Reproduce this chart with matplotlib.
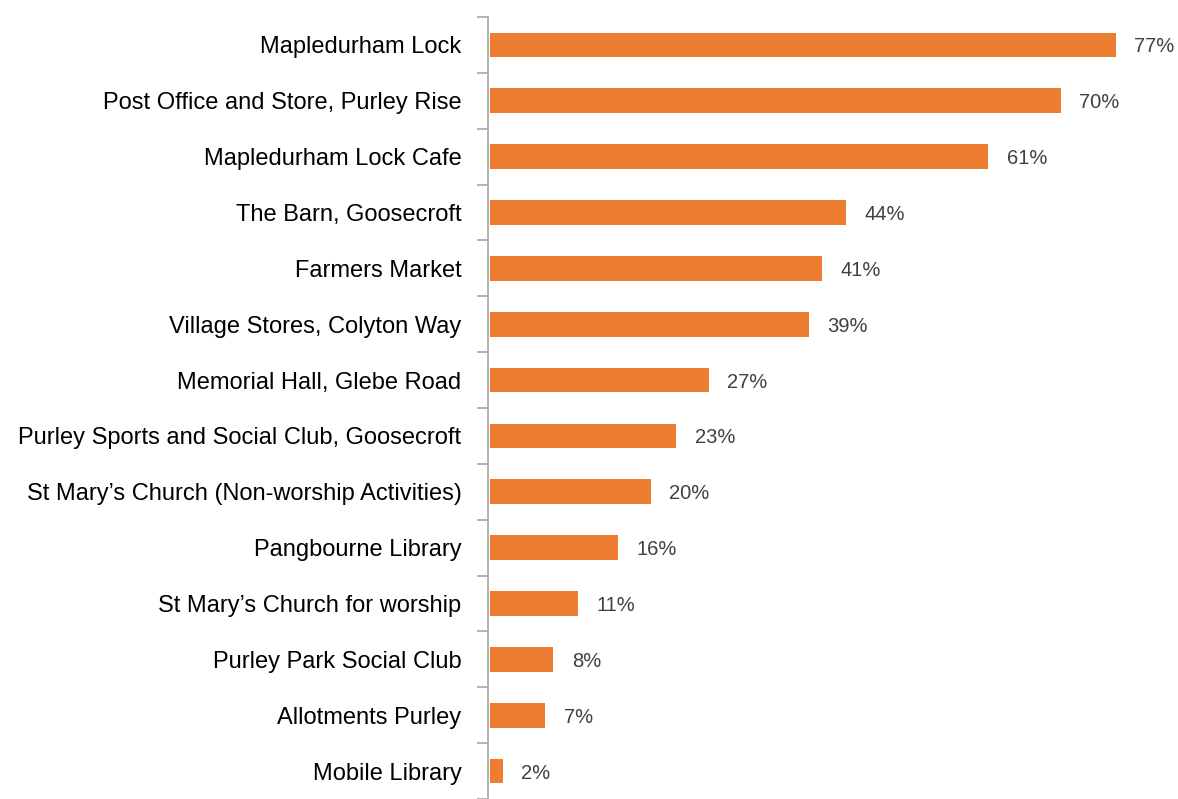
import numpy as np
import matplotlib.pyplot as plt

plt.rcParams['font.family'] = ['Liberation Sans', 'DejaVu Sans']

categories = ["Mapledurham Lock", "Post Office and Store, Purley Rise",
              "Mapledurham Lock Cafe", "The Barn, Goosecroft", "Farmers Market",
              "Village Stores, Colyton Way", "Memorial Hall, Glebe Road",
              "Purley Sports and Social Club, Goosecroft",
              "St Mary\u2019s Church (Non-worship Activities)", "Pangbourne Library",
              "St Mary\u2019s Church for worship", "Purley Park Social Club",
              "Allotments Purley", "Mobile Library"]
values = [77, 70, 61, 44, 41, 39, 27, 23, 20, 16, 11, 8, 7, 2]
widths = [77, 70.2, 61.3, 43.8, 40.8, 39.2, 26.9, 22.9, 19.8, 15.8, 10.8, 7.8, 6.8, 1.6]

fig = plt.figure(figsize=(11.78, 7.99), dpi=100)
ax = fig.add_axes([488/1178, 0, 690/1178, 782/799])

y = np.arange(len(categories))
ax.barh(y, widths, height=0.44, left=0.25, color='#ED7D31')
for yi, w, v in zip(y, widths, values):
    ax.text(w + 2.5, yi, f"{v}%", va='center_baseline', ha='left',
            fontsize=14.5, color='#404040')

ax.set_xlim(0, 690/8.13)
ax.set_ylim(len(categories) - 0.5, -0.5)
ax.set_xticks([])
ax.set_yticks(np.arange(len(categories) + 1) - 0.5, minor=True)
ax.set_yticks(y)
ax.set_yticklabels(categories, fontsize=17, color='black')
ax.tick_params(axis='y', which='major', length=0, pad=19)
ax.tick_params(axis='y', which='minor', length=8, color='#A6A6A6', width=1.2)
for s in ['top', 'right', 'bottom']:
    ax.spines[s].set_visible(False)
ax.spines['left'].set_color('#A6A6A6')
ax.spines['left'].set_linewidth(1.2)

fig.savefig('out.png', dpi=100)
